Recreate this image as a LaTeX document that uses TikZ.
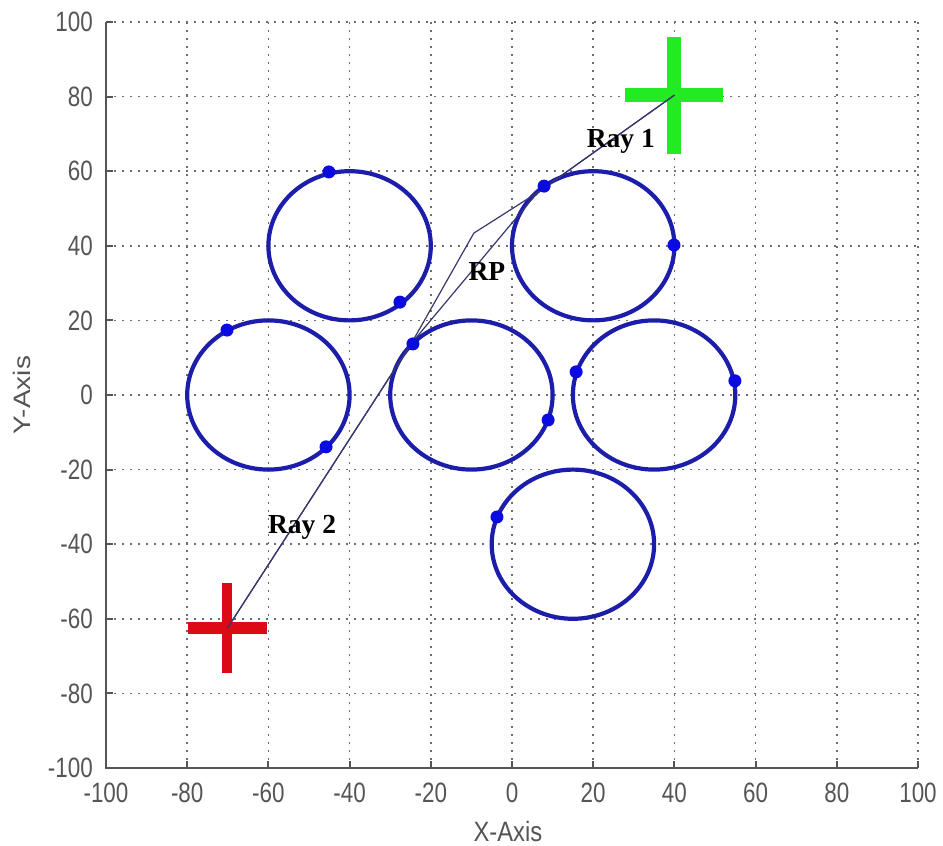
\documentclass[tikz,border=0pt]{standalone}
\usepackage{fontspec}
\setmainfont{Liberation Serif}
\newfontfamily\axfont{Liberation Sans}
\definecolor{axgray}{RGB}{85,85,85}
\definecolor{gridgray}{RGB}{110,110,110}
\definecolor{circblue}{RGB}{28,30,170}
\definecolor{dotblue}{RGB}{10,10,225}
\definecolor{raycol}{RGB}{55,55,110}
\definecolor{startgreen}{RGB}{34,235,34}
\definecolor{endred}{RGB}{220,10,20}
\tikzset{
 gridline/.style={draw=gridgray, line width=1.6pt, dash pattern=on 1.6pt off 6.4pt},
 axisline/.style={draw=axgray, line width=2pt},
 ticklab/.style={inner sep=0pt, text=axgray, font=\axfont\fontsize{28}{28}\selectfont},
 obstacle/.style={draw=circblue, line width=4.2pt},
 hitdot/.style={fill=dotblue},
 ray/.style={draw=raycol, line width=1.2pt},
 raylab/.style={inner sep=0pt, font=\bfseries\fontsize{27.5}{27.5}\selectfont, text=black},
}
\begin{document}
\begin{tikzpicture}[x=1pt,y=1pt]
\useasboundingbox (0,0) rectangle (943,846);
\begin{scope}[shift={(512pt,451pt)}, x=4.06pt, y=3.73pt]
 % grid
 \foreach \v in {-80,-60,...,100} {
  \draw[gridline] (\v,-100) -- (\v,100);
  \draw[gridline] (-100,\v) -- (100,\v);
 }
 % axes
 \draw[axisline] (-100,100) -- (-100,-100) -- (100,-100);
 \foreach \v in {-100,-80,...,100} {
  \draw[axisline] (\v,-100) -- ++(0pt,7pt);
  \draw[axisline] (-100,\v) -- ++(7pt,0pt);
  \node[ticklab, anchor=east] (yl\v) at ([xshift=-13pt]-100,\v) {\scalebox{0.8}[1]{\v}};
  \node[ticklab, anchor=north] (xl\v) at ([yshift=-15pt]\v,-100) {\scalebox{0.8}[1]{\v}};
 }
 \node[ticklab] (ylab) at ([xshift=-490pt]0,0) {\rotatebox{90}{\scalebox{1}[0.85]{Y-Axis}}};
 \node[ticklab] (xlab) at ([yshift=-436pt]-1,0) {\scalebox{0.85}[1]{X-Axis}};

 % obstacles
 \foreach \cx/\cy/\nm in {-40/40/A, 20/40/B, -60/0/C, -10/0/D, 35/0/E, 15/-40/F} {
  \coordinate (c\nm) at (\cx,\cy);
  \draw[obstacle] (c\nm) circle [x radius=81.2pt, y radius=74.6pt];
 }

 % start and goal markers
 \coordinate (G) at (40,80.4);
 \coordinate (R) at (-70.1,-62.5);
 \draw[startgreen, line width=14pt] ([xshift=-49pt]G) -- ([xshift=49pt]G);
 \draw[startgreen, line width=14pt] ([yshift=-58.5pt]G) -- ([yshift=58.5pt]G);
 \draw[endred, line width=12pt] ([xshift=-39.5pt]R) -- ([xshift=39.5pt]R);
 \draw[endred, line width=10pt] ([yshift=-45pt]R) -- ([yshift=45pt]R);

 % rays
 \coordinate (S) at (6.2,54.2);
 \coordinate (B) at (-9.4,43.4);
 \coordinate (M) at (-24.8,13.8);
 \draw[ray] (G) -- (S) -- (B) -- (M) -- (R);
 \draw[ray] (G) -- (S) -- (M) -- (R);

 % hit points
 \foreach \px/\py [count=\i] in {-45.1/59.8, -27.6/24.9, -70.2/17.4, -45.8/-13.9, -24.4/13.7, 7.9/56, 39.9/40.2, 15.8/6.2, 54.9/3.8, 8.9/-6.7, -3.7/-32.7} {
  \fill[hitdot] (\px,\py) circle (6.5pt);
 }

 % labels
 \node[raylab] (r1) at (26.8,68.1) {Ray 1};
 \node[raylab] (r2) at (-51.7,-35.4) {Ray 2};
 \node[raylab] (rp) at (-6.2,33.0) {RP};
\end{scope}
\end{tikzpicture}
\end{document}
